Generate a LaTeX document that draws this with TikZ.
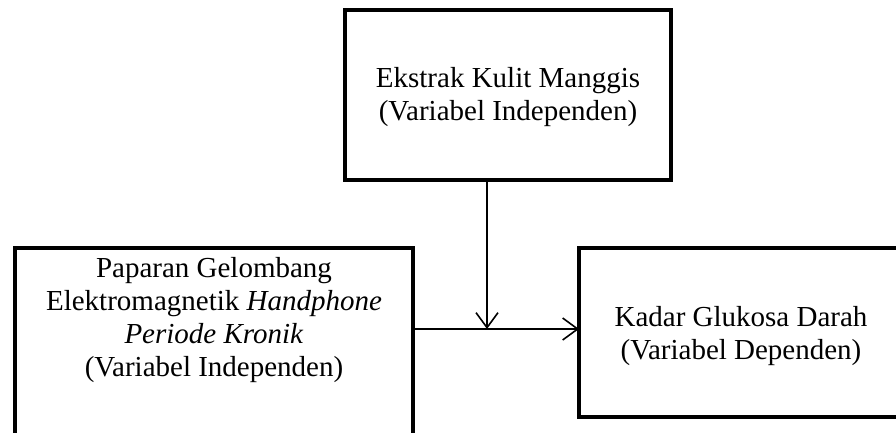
\documentclass[tikz,border=0pt]{standalone}
\usepackage{fontspec}
\setmainfont{Liberation Serif}
\usetikzlibrary{arrows.meta}
\begin{document}
\begin{tikzpicture}[x=1pt,y=-1pt,
  box/.style={draw=black,line width=4.5pt,inner sep=0pt,outer sep=0pt},
  txt/.style={align=center,font=\fontsize{29}{33}\selectfont,inner sep=0pt},
  arr/.style={draw=black,line width=1.6pt,-{Straight Barb[length=15pt,width=22pt,line width=1.6pt]}}]
\clip (0,0) rectangle (896,432);
\fill[white] (0,0) rectangle (896,432);
\node[box,minimum width=326pt,minimum height=170pt] (top) at (508,95) {};
\node[txt] (toptxt) at (508,97) {Ekstrak Kulit Manggis\\(Variabel Independen)};
\node[box,minimum width=398pt,minimum height=200pt] (left) at (214,348) {};
\node[txt] (lefttxt) at (214,320) {Paparan Gelombang\\Elektromagnetik \textit{Handphone}\\\textit{Periode Kronik}\\(Variabel Independen)};
\node[box,minimum width=324pt,minimum height=169pt] (right) at (741,332.5) {};
\node[txt] (righttxt) at (741,336) {Kadar Glukosa Darah\\(Variabel Dependen)};
\coordinate (j) at (487,329);
\draw[arr] (top.south -| j) -- (j);
\draw[arr] (left.east |- j) -- (right.west |- j);
\end{tikzpicture}
\end{document}
